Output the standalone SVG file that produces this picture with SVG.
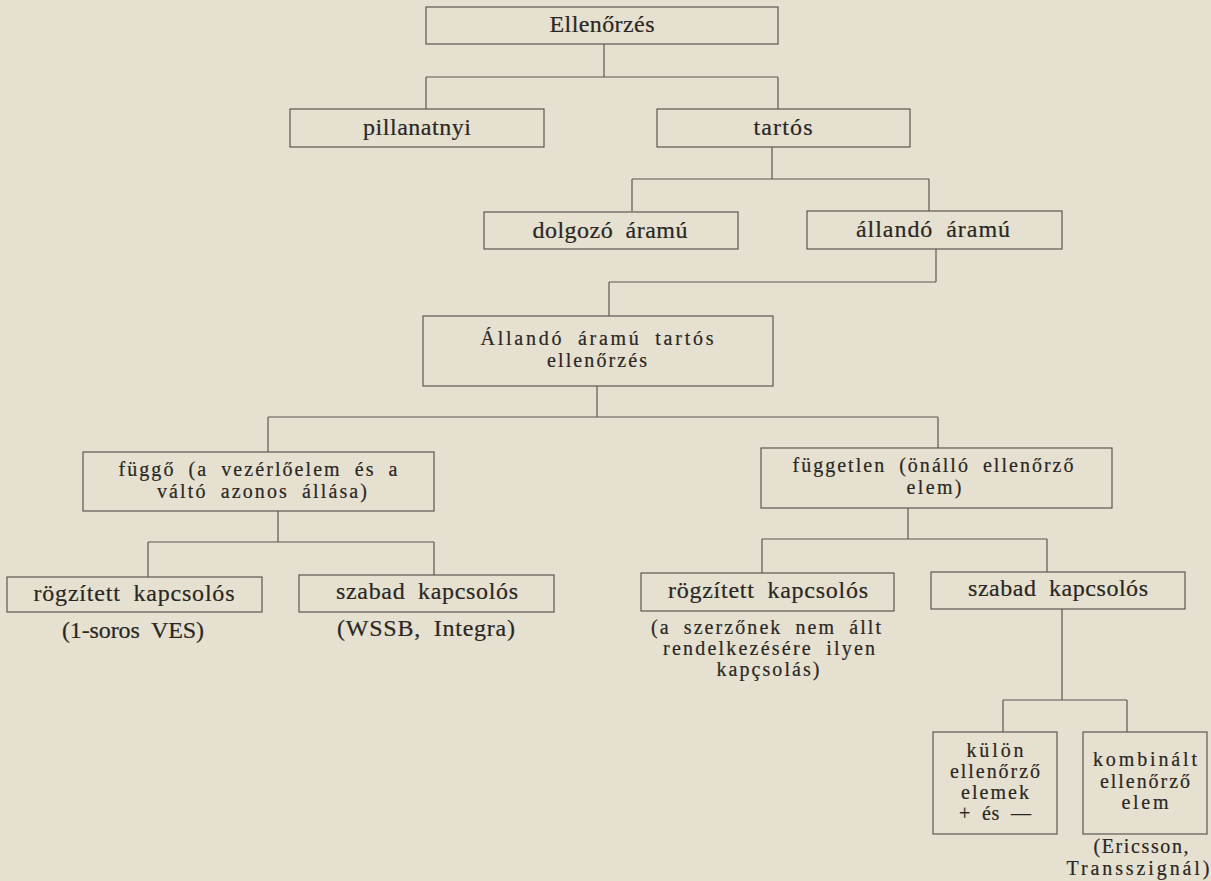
<svg xmlns="http://www.w3.org/2000/svg" width="1211" height="881" viewBox="0 0 1211 881" font-family="'Liberation Serif', 'Times New Roman', serif">
<style>
.bg{fill:#e5e0d0}
.box{fill:none;stroke:#5b5750;stroke-width:1.2}
.con{fill:none;stroke:#5b5750;stroke-width:1.2}
.t{font-family:'Liberation Serif','Times New Roman',serif;font-size:24px;fill:#2a2723;stroke:#2a2723;stroke-width:0.2px;text-anchor:middle;word-spacing:6px}
.m{font-size:20px}
</style>
<rect class="bg" x="0" y="0" width="1211" height="881"/>
<g id="connectors">
<path class="con" d="M604 44V77M426 77H778M426 77V109M778 77V109"/>
<path class="con" d="M772 147V179M632 179H929M632 179V211M929 179V211"/>
<path class="con" d="M936 249V282M609 282H936M609 282V316"/>
<path class="con" d="M597 386V417M268 417H938M268 417V452M938 417V448"/>
<path class="con" d="M278 511V542M148 542H434M148 542V577M434 542V575"/>
<path class="con" d="M908 508V539M762 539H1047M762 539V573M1047 539V572"/>
<path class="con" d="M1062 609V700M1003 700H1127M1003 700V732M1127 700V732"/>
</g>
<g id="ellenorzes">
<rect class="box" x="426" y="7" width="352" height="37"/>
<text class="t" x="602" y="32" textLength="105" lengthAdjust="spacing">Ellenőrzés</text>
</g>
<g id="pillanatnyi">
<rect class="box" x="290" y="109" width="254" height="38"/>
<text class="t" x="417" y="135" textLength="108" lengthAdjust="spacing">pillanatnyi</text>
</g>
<g id="tartos">
<rect class="box" x="657" y="109" width="253" height="38"/>
<text class="t" x="783" y="135" textLength="59" lengthAdjust="spacing">tartós</text>
</g>
<g id="dolgozo">
<rect class="box" x="484" y="212" width="254" height="37"/>
<text class="t" x="610" y="238" textLength="155" lengthAdjust="spacing">dolgozó áramú</text>
</g>
<g id="allando">
<rect class="box" x="807" y="211" width="255" height="38"/>
<text class="t" x="933" y="237" textLength="154" lengthAdjust="spacing">állandó áramú</text>
</g>
<g id="allando-tartos">
<rect class="box" x="423" y="316" width="350" height="70"/>
<text class="t m" x="597" y="345" textLength="233" lengthAdjust="spacing">Állandó áramú tartós</text>
<text class="t m" x="597" y="367" textLength="100" lengthAdjust="spacing">ellenőrzés</text>
</g>
<g id="fuggo">
<rect class="box" x="83" y="452" width="351" height="59"/>
<text class="t m" x="258" y="476" textLength="279" lengthAdjust="spacing">függő (a vezérlőelem és a</text>
<text class="t m" x="262" y="498" textLength="210" lengthAdjust="spacing">váltó azonos állása)</text>
</g>
<g id="fuggetlen">
<rect class="box" x="761" y="448" width="351" height="60"/>
<text class="t m" x="933" y="472" textLength="281" lengthAdjust="spacing">független (önálló ellenőrző</text>
<text class="t m" x="934" y="494" textLength="55" lengthAdjust="spacing">elem)</text>
</g>
<g id="rogzitett-1">
<rect class="box" x="7" y="577" width="255" height="35"/>
<text class="t" x="134" y="601" textLength="201" lengthAdjust="spacing">rögzített kapcsolós</text>
<text class="t" x="133" y="638" textLength="142" lengthAdjust="spacing">(1-soros VES)</text>
</g>
<g id="szabad-1">
<rect class="box" x="299" y="575" width="255" height="37"/>
<text class="t" x="427" y="599" textLength="182" lengthAdjust="spacing">szabad kapcsolós</text>
<text class="t" x="426" y="636" textLength="178" lengthAdjust="spacing">(WSSB, Integra)</text>
</g>
<g id="rogzitett-2">
<rect class="box" x="641" y="573" width="253" height="38"/>
<text class="t" x="768" y="598" textLength="200" lengthAdjust="spacing">rögzített kapcsolós</text>
<text class="t m" x="766" y="634" textLength="230" lengthAdjust="spacing">(a szerzőnek nem állt</text>
<text class="t m" x="769" y="655" textLength="212" lengthAdjust="spacing">rendelkezésére ilyen</text>
<text class="t m" x="768" y="676" textLength="103" lengthAdjust="spacing">kapçsolás)</text>
</g>
<g id="szabad-2">
<rect class="box" x="931" y="572" width="254" height="37"/>
<text class="t" x="1058" y="596" textLength="180" lengthAdjust="spacing">szabad kapcsolós</text>
</g>
<g id="kulon">
<rect class="box" x="933" y="732" width="124" height="102"/>
<text class="t m" x="995" y="757" textLength="57" lengthAdjust="spacing">külön</text>
<text class="t m" x="995" y="778" textLength="90" lengthAdjust="spacing">ellenőrző</text>
<text class="t m" x="995" y="799" textLength="68" lengthAdjust="spacing">elemek</text>
<text class="t m" x="995" y="820" textLength="72" lengthAdjust="spacing">+ és —</text>
</g>
<g id="kombinalt">
<rect class="box" x="1083" y="732" width="124" height="102"/>
<text class="t m" x="1145" y="766" textLength="104" lengthAdjust="spacing">kombinált</text>
<text class="t m" x="1145" y="788" textLength="90" lengthAdjust="spacing">ellenőrző</text>
<text class="t m" x="1145" y="809" textLength="47" lengthAdjust="spacing">elem</text>
<text class="t m" x="1141" y="853" textLength="95" lengthAdjust="spacing">(Ericsson,</text>
<text class="t m" x="1138" y="875" textLength="143" lengthAdjust="spacing">Transszignál)</text>
</g>
</svg>
